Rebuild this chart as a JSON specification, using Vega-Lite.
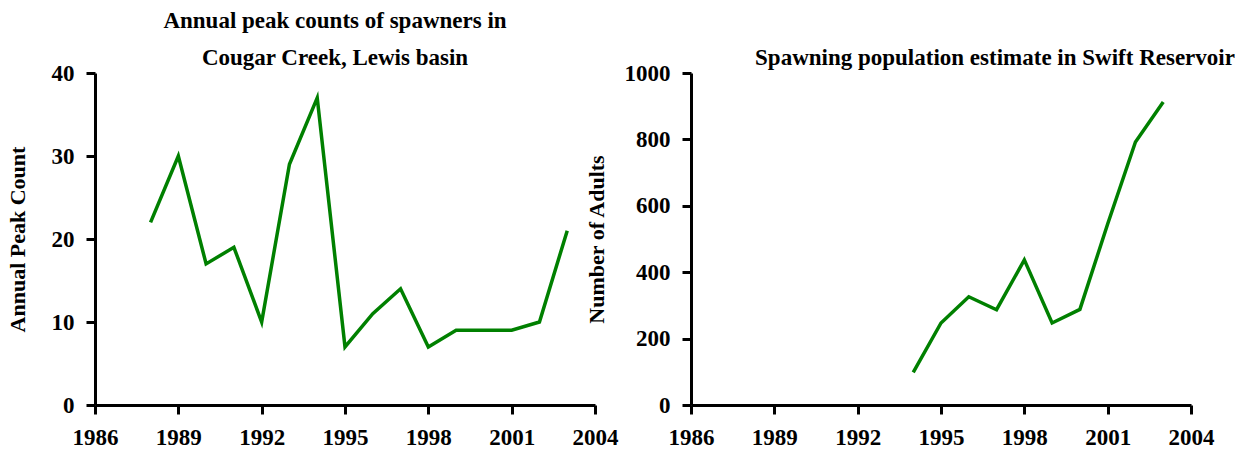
{
  "$schema": "https://vega.github.io/schema/vega-lite/v6.json",
  "padding": {"left": 6, "top": 10, "right": 0, "bottom": 0},
  "background": "white",
  "spacing": 96,
  "bounds": "flush",
  "config": {
    "view": {"stroke": null},
    "font": "Liberation Serif",
    "axis": {
      "domainColor": "black",
      "domainWidth": 3,
      "tickColor": "black",
      "tickWidth": 3,
      "tickSize": 9,
      "labelFont": "Liberation Serif",
      "labelFontSize": 23,
      "labelFontWeight": "bold",
      "labelColor": "black",
      "labelPadding": 12,
      "labelFlush": false,
      "labelOverlap": false,
      "titleFont": "Liberation Serif",
      "titleFontSize": 22,
      "titleFontWeight": "bold",
      "titleColor": "black",
      "grid": false
    },
    "title": {
      "font": "Liberation Serif",
      "fontSize": 23,
      "fontWeight": "bold",
      "color": "black",
      "anchor": "middle"
    }
  },
  "datasets": {
    "cougar": [
      {"year": 1988, "count": 22},
      {"year": 1989, "count": 30},
      {"year": 1990, "count": 17},
      {"year": 1991, "count": 19},
      {"year": 1992, "count": 10},
      {"year": 1993, "count": 29},
      {"year": 1994, "count": 37},
      {"year": 1995, "count": 7},
      {"year": 1996, "count": 11},
      {"year": 1997, "count": 14},
      {"year": 1998, "count": 7},
      {"year": 1999, "count": 9},
      {"year": 2000, "count": 9},
      {"year": 2001, "count": 9},
      {"year": 2002, "count": 10},
      {"year": 2003, "count": 21}
    ],
    "swift": [
      {"year": 1994, "adults": 98},
      {"year": 1995, "adults": 247},
      {"year": 1996, "adults": 326},
      {"year": 1997, "adults": 287},
      {"year": 1998, "adults": 437},
      {"year": 1999, "adults": 247},
      {"year": 2000, "adults": 288},
      {"year": 2001, "adults": 545},
      {"year": 2002, "adults": 792},
      {"year": 2003, "adults": 913}
    ]
  },
  "hconcat": [
    {
      "width": 500,
      "height": 332,
      "data": {"name": "cougar"},
      "title": {
        "text": ["Annual peak counts of spawners in", "Cougar Creek, Lewis basin"],
        "lineHeight": 37,
        "dx": -10,
        "offset": -8
      },
      "mark": {"type": "line", "color": "#008000", "strokeWidth": 3.5},
      "encoding": {
        "x": {
          "field": "year",
          "type": "quantitative",
          "scale": {"domain": [1986, 2004], "nice": false, "zero": false},
          "axis": {"title": null, "values": [1986, 1989, 1992, 1995, 1998, 2001, 2004], "format": "d"}
        },
        "y": {
          "field": "count",
          "type": "quantitative",
          "scale": {"domain": [0, 40], "nice": false},
          "axis": {"title": "Annual Peak Count", "values": [0, 10, 20, 30, 40], "format": "d", "titleX": -78, "titleY": 166, "titleBaseline": "middle"}
        }
      }
    },
    {
      "width": 500,
      "height": 332,
      "data": {"name": "swift"},
      "title": {
        "text": "Spawning population estimate in Swift Reservoir",
        "dx": 54,
        "offset": -8
      },
      "mark": {"type": "line", "color": "#008000", "strokeWidth": 3.5},
      "encoding": {
        "x": {
          "field": "year",
          "type": "quantitative",
          "scale": {"domain": [1986, 2004], "nice": false, "zero": false},
          "axis": {"title": null, "values": [1986, 1989, 1992, 1995, 1998, 2001, 2004], "format": "d"}
        },
        "y": {
          "field": "adults",
          "type": "quantitative",
          "scale": {"domain": [0, 1000], "nice": false},
          "axis": {"title": "Number of Adults", "values": [0, 200, 400, 600, 800, 1000], "format": "d", "titleX": -95, "titleY": 166, "titleBaseline": "middle"}
        }
      }
    }
  ]
}
